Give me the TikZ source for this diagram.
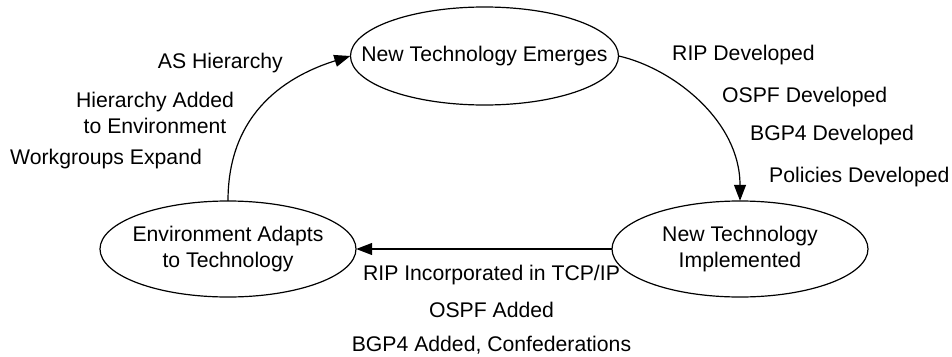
\documentclass[tikz,border=0pt]{standalone}
\usepackage{fontspec}
\setmainfont{Liberation Sans}
\usetikzlibrary{arrows.meta}
\begin{document}
\begin{tikzpicture}[x=1pt,y=-1pt,
  every node/.style={font=\fontsize{21.2}{26}\selectfont, inner sep=0pt},
  stateell/.style={align=center},
  ellline/.style={line width=1.2pt},
  lbl/.style={},
  flow/.style={line width=1.2pt, -{Triangle[length=16pt,width=12pt]}}]
\useasboundingbox (0,0) rectangle (952,356);
\node[stateell, minimum width=268pt, minimum height=98pt] (emerge) at (484.5,56) {New Technology Emerges};
\node[stateell, minimum width=256pt, minimum height=96pt] (impl) at (740,249) {New Technology\\Implemented};
\node[stateell, minimum width=256pt, minimum height=96pt] (adapt) at (228,249) {Environment Adapts\\to Technology};
\draw[ellline] (emerge.center) ellipse [x radius=134pt, y radius=49pt];
\draw[ellline] (impl.center) ellipse [x radius=128pt, y radius=48pt];
\draw[ellline] (adapt.center) ellipse [x radius=128pt, y radius=48pt];

\draw[flow] (adapt.north) .. controls (228,110) and (290,75) .. (emerge.west);
\draw[flow] (emerge.east) .. controls (672,68) and (740,120) .. (impl.north);
\draw[flow] (impl.west) -- (adapt.east);

\node[lbl, anchor=east] (ash) at (283,63) {AS Hierarchy};
\node[lbl, align=center] (hae) at (155,113) {Hierarchy Added\\to Environment};
\node[lbl, anchor=west] (wge) at (10,159) {Workgroups Expand};

\node[lbl, anchor=west] (ripd) at (672,55) {RIP Developed};
\node[lbl, anchor=west] (ospfd) at (722,97) {OSPF Developed};
\node[lbl, anchor=west] (bgpd) at (750,135) {BGP4 Developed};
\node[lbl, anchor=west] (pold) at (769,177) {Policies Developed};

\node[lbl] (ripi) at (491.5,275) {RIP Incorporated in TCP/IP};
\node[lbl] (ospfa) at (491.5,310) {OSPF Added};
\node[lbl] (bgpa) at (491.5,345) {BGP4 Added, Confederations};
\end{tikzpicture}
\end{document}
